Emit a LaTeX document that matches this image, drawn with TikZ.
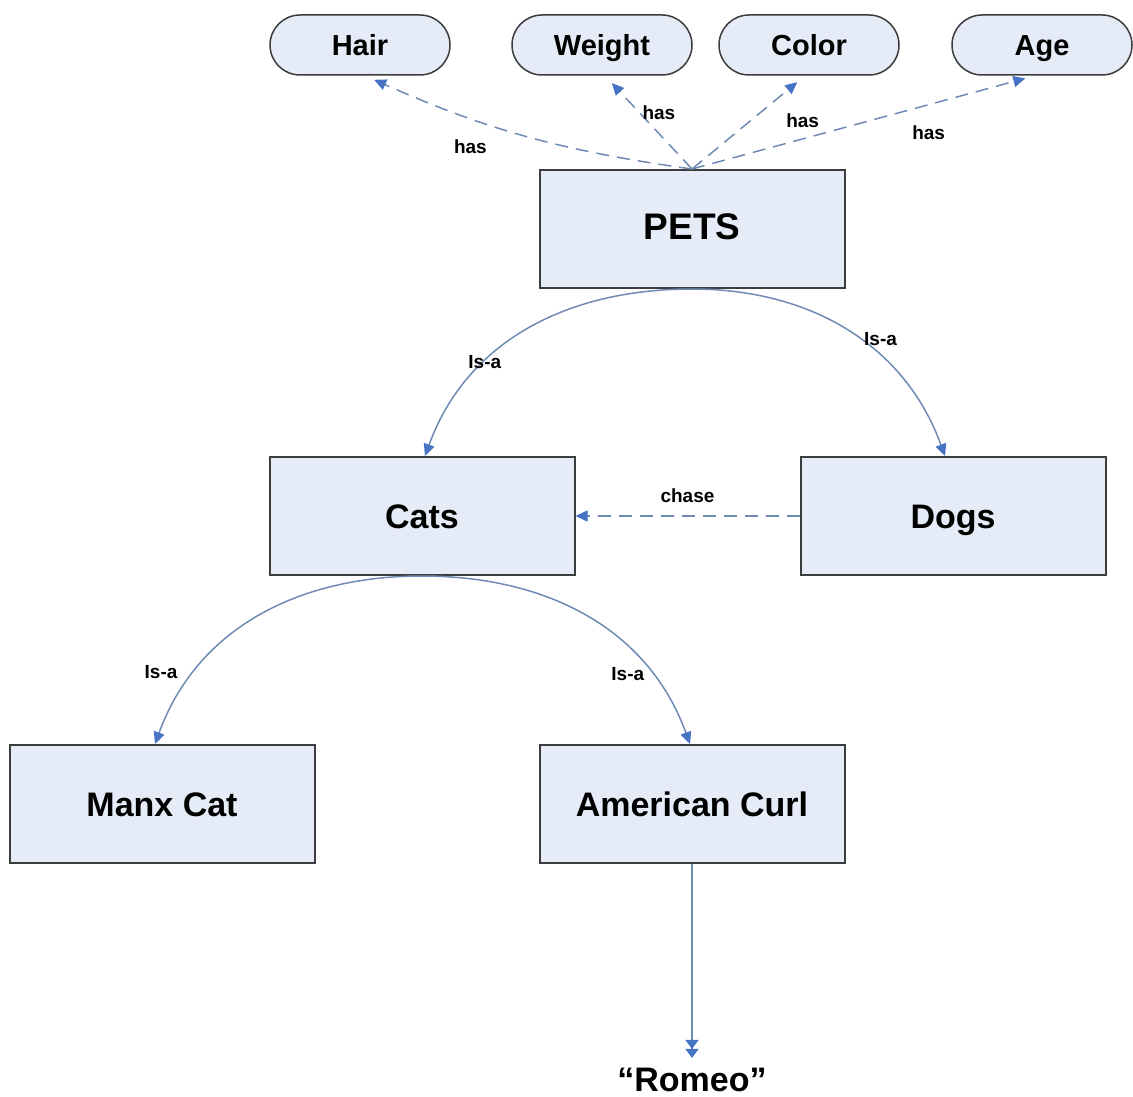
\documentclass[tikz,border=0pt]{standalone}
\usepackage{fontspec}
\setmainfont{Liberation Sans}
\usetikzlibrary{arrows.meta}
\definecolor{boxfill}{RGB}{230,236,247}
\definecolor{boxline}{RGB}{60,60,60}
\definecolor{linkline}{RGB}{112,138,182}
\definecolor{tipblue}{RGB}{70,115,195}
\begin{document}
\begin{tikzpicture}[x=1pt,y=1pt,
  concept/.style={draw=boxline,line width=2pt,fill=boxfill,
    minimum width=305pt,minimum height=118pt,inner sep=0pt,
    text height=25pt,text depth=1pt,
    font=\bfseries\fontsize{34}{40}\selectfont},
  attr/.style={draw=boxline,line width=1.5pt,fill=boxfill,rounded corners=30pt,
    minimum width=180pt,minimum height=60pt,inner sep=0pt,
    text height=22pt,text depth=1pt,
    font=\bfseries\fontsize{29}{34}\selectfont},
  tip/.style={-{Triangle[length=12pt,width=11pt,fill=tipblue,color=tipblue]}},
  link/.style={draw=linkline,line width=1.5pt,tip},
  haslink/.style={link,dash pattern=on 13pt off 8pt},
  lbl/.style={font=\bfseries\fontsize{19}{22}\selectfont,inner sep=1pt,text=black}]

\useasboundingbox (0,0) rectangle (1133,-1097);

% attribute ovals
\node[attr] (hair)   at (360,-45)  {Hair};
\node[attr] (weight) at (602,-45)  {Weight};
\node[attr] (color)  at (809,-45)  {Color};
\node[attr] (age)    at (1042,-45) {Age};

% concept boxes
\node[concept,font=\bfseries\fontsize{37}{44}\selectfont,text height=27pt,text depth=7pt] (pets) at (692,-229) {PETS};
\node[concept] (cats) at (422,-516) {Cats};
\node[concept] (dogs) at (953,-516) {Dogs};
\node[concept] (manx) at (162,-804) {Manx Cat};
\node[concept] (curl) at (692,-804) {American Curl};
\node[font=\bfseries\fontsize{34}{40}\selectfont,inner sep=0pt] (romeo) at (692,-1080) {“Romeo”};

% attribute links
\draw[haslink,shorten >=10pt] (pets.north) to[bend left=8]
  node[lbl,pos=0.68,below=20pt] {has} ([xshift=5pt]hair.south);
\draw[haslink,shorten >=10pt] (pets.north) --
  node[lbl,pos=0.6,anchor=west,xshift=1pt] {has} ([xshift=3pt]weight.south);
\draw[haslink,shorten >=10pt] (pets.north) --
  node[lbl,pos=0.5,anchor=west,xshift=36pt,yshift=2pt] {has} ([xshift=-4pt]color.south);
\draw[haslink,shorten >=10pt] (pets.north) --
  node[lbl,pos=0.69,below=19pt] {has} ([xshift=-7pt]age.south);

% is-a hierarchy
\draw[link] (pets.south) to[out=180,in=70]
  node[lbl,pos=0.67] {Is-a} ([xshift=3pt]cats.north);
\draw[link] (pets.south) to[out=0,in=110]
  node[lbl,pos=0.6,xshift=8pt,yshift=10pt] {Is-a} ([xshift=-8pt]dogs.north);
\draw[link] (cats.south) to[out=180,in=70]
  node[lbl,pos=0.75,anchor=east,xshift=-18pt,yshift=-3pt] {Is-a} ([xshift=-7pt]manx.north);
\draw[link] (cats.south) to[out=0,in=110]
  node[lbl,pos=0.77,xshift=-24pt] {Is-a} ([xshift=-2pt]curl.north);

% chase relation
\draw[haslink] (dogs.west) -- node[lbl,above=12pt] {chase} (cats.east);

% instance
\draw[draw=linkline,line width=1.5pt,shorten >=10pt,
  -{Triangle[length=9pt,width=13pt,fill=tipblue,color=tipblue]Triangle[length=9pt,width=13pt,fill=tipblue,color=tipblue]}]
  (curl.south) -- (romeo.north);
\end{tikzpicture}
\end{document}
